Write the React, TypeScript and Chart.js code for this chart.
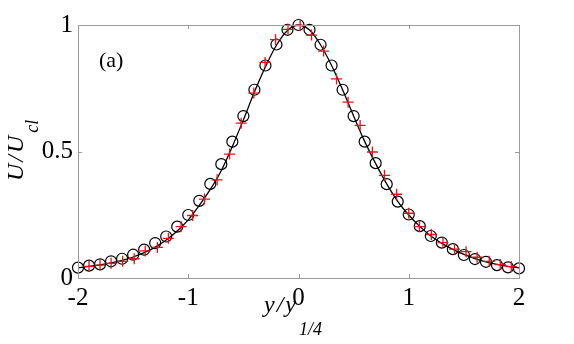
import React, { useEffect, useRef } from "react";
import { Chart, registerables } from "chart.js";

Chart.register(...registerables);

// Solid line (model profile)
const lineX = [-2, -1.9, -1.8, -1.7, -1.6, -1.5, -1.4, -1.3, -1.2, -1.1, -1.0, -0.9, -0.8, -0.7, -0.6, -0.5, -0.4, -0.3, -0.2, -0.1, 0, 0.1, 0.2, 0.3, 0.4, 0.5, 0.6, 0.7, 0.8, 0.9, 1.0, 1.1, 1.2, 1.3, 1.4, 1.5, 1.6, 1.7, 1.8, 1.9, 2.0];
const lineY = [0.040, 0.046, 0.052, 0.060, 0.070, 0.083, 0.100, 0.122, 0.150, 0.186, 0.230, 0.287, 0.350, 0.425, 0.520, 0.625, 0.735, 0.835, 0.920, 0.978, 1.0, 0.980, 0.922, 0.840, 0.744, 0.640, 0.540, 0.452, 0.372, 0.303, 0.249, 0.204, 0.166, 0.137, 0.113, 0.093, 0.077, 0.064, 0.054, 0.046, 0.040];

// Circles
const circleX = [-2, -1.9, -1.8, -1.7, -1.6, -1.5, -1.4, -1.3, -1.2, -1.1, -1.0, -0.9, -0.8, -0.7, -0.6, -0.5, -0.4, -0.3, -0.2, -0.1, 0, 0.1, 0.2, 0.3, 0.4, 0.5, 0.6, 0.7, 0.8, 0.9, 1.0, 1.1, 1.2, 1.3, 1.4, 1.5, 1.6, 1.7, 1.8, 1.9, 2.0];
const circleY = [0.041, 0.049, 0.054, 0.066, 0.076, 0.092, 0.112, 0.138, 0.164, 0.203, 0.249, 0.305, 0.372, 0.450, 0.539, 0.640, 0.744, 0.840, 0.923, 0.981, 1.0, 0.981, 0.922, 0.840, 0.744, 0.640, 0.539, 0.454, 0.371, 0.302, 0.251, 0.205, 0.166, 0.140, 0.114, 0.091, 0.075, 0.064, 0.051, 0.042, 0.038];

// Red crosses
const crossX = [-1.90, -1.80, -1.70, -1.595, -1.49, -1.39, -1.28, -1.18, -1.065, -0.96, -0.853, -0.738, -0.625, -0.52, -0.405, -0.303, -0.208, -0.095, 0.015, 0.118, 0.228, 0.345, 0.45, 0.559, 0.67, 0.78, 0.89, 1.0, 1.097, 1.205, 1.31, 1.415, 1.52, 1.62, 1.73, 1.83, 1.93];
const crossY = [0.046, 0.051, 0.058, 0.066, 0.076, 0.107, 0.121, 0.157, 0.203, 0.247, 0.312, 0.388, 0.490, 0.612, 0.731, 0.852, 0.942, 0.983, 0.998, 0.960, 0.897, 0.787, 0.695, 0.603, 0.498, 0.406, 0.331, 0.256, 0.203, 0.172, 0.140, 0.114, 0.104, 0.082, 0.066, 0.053, 0.045];

const xTicks = [-2, -1, 0, 1, 2];
const yTicks = [0, 0.5, 1];

const SERIF = '"Liberation Serif", "Times New Roman", serif';

function drawSpaced(ctx: CanvasRenderingContext2D, text: string, x: number, y: number, spacing: number) {
  let cx = x;
  for (const ch of text) {
    ctx.fillText(ch, cx, y);
    cx += ctx.measureText(ch).width + spacing;
  }
  return cx;
}

const framePlugin = {
  id: "frame",
  afterDatasetsDraw(chart: any) {
    const { ctx, chartArea } = chart;
    const { left, right, top, bottom } = chartArea;
    const xs = chart.scales.x;
    const ys = chart.scales.y;
    ctx.save();
    ctx.strokeStyle = "#9a9a9a";
    ctx.lineWidth = 1;
    ctx.strokeRect(Math.round(left) + 0.5, Math.round(top) + 0.5, Math.round(right - left), Math.round(bottom - top));
    const tl = 4;
    ctx.beginPath();
    for (const t of xTicks) {
      const px = Math.round(xs.getPixelForValue(t)) + 0.5;
      ctx.moveTo(px, bottom);
      ctx.lineTo(px, bottom - tl);
      ctx.moveTo(px, top);
      ctx.lineTo(px, top + tl);
    }
    for (const t of yTicks) {
      const py = Math.round(ys.getPixelForValue(t)) + 0.5;
      ctx.moveTo(left, py);
      ctx.lineTo(left + tl, py);
      ctx.moveTo(right, py);
      ctx.lineTo(right - tl, py);
    }
    ctx.stroke();
    ctx.restore();
  },
  afterDraw(chart: any) {
    const { ctx } = chart;
    ctx.save();
    ctx.fillStyle = "#000";
    ctx.textBaseline = "alphabetic";
    ctx.textAlign = "left";
    // (a) label
    ctx.font = `22px ${SERIF}`;
    ctx.fillText("(a)", 99, 67);
    // x title
    ctx.font = `italic 24px ${SERIF}`;
    const endX = drawSpaced(ctx, "y/y", 264, 312, 2);
    ctx.font = `italic 18px ${SERIF}`;
    ctx.fillText("1/4", endX + 1, 335);
    // y title
    ctx.translate(23, 181);
    ctx.rotate(-Math.PI / 2);
    ctx.font = `italic 24px ${SERIF}`;
    const endY = drawSpaced(ctx, "U/U", 0, 0, 2);
    ctx.font = `italic 18px ${SERIF}`;
    ctx.fillText("cl", endY + 1, 15);
    ctx.restore();
  },
};

export default function App() {
  const ref = useRef<HTMLCanvasElement | null>(null);
  useEffect(() => {
    document.body.style.margin = "0";
    document.body.style.background = "#fff";
    const canvas = ref.current;
    if (!canvas) return;
    const chart = new Chart(canvas, {
      type: "scatter",
      data: {
        datasets: [
          {
            label: "line",
            data: lineX.map((x, i) => ({ x, y: lineY[i] })),
            showLine: true,
            borderColor: "#000",
            borderWidth: 1.3,
            pointRadius: 0,
            cubicInterpolationMode: "monotone",
            order: 3,
          } as any,
          {
            label: "circles",
            data: circleX.map((x, i) => ({ x, y: circleY[i] })),
            pointStyle: "circle",
            pointRadius: 5.5,
            borderColor: "#000",
            backgroundColor: "rgba(0,0,0,0)",
            borderWidth: 1.2,
            order: 2,
          },
          {
            label: "crosses",
            data: crossX.map((x, i) => ({ x, y: crossY[i] })),
            pointStyle: "cross",
            pointRadius: 5.5,
            borderColor: "#e8101a",
            backgroundColor: "#e8101a",
            borderWidth: 1.3,
            order: 1,
          },
        ],
      },
      options: {
        responsive: false,
        animation: false,
        clip: false as any,
        layout: { padding: { left: 0, top: 25, right: 55, bottom: 0 } },
        plugins: {
          legend: { display: false },
          tooltip: { enabled: false },
        },
        scales: {
          x: {
            type: "linear",
            min: -2,
            max: 2,
            afterBuildTicks: (axis: any) => {
              axis.ticks = xTicks.map((v) => ({ value: v }));
            },
            afterFit: (axis: any) => {
              axis.height = 66;
            },
            grid: { display: false, drawTicks: false },
            border: { display: false },
            ticks: {
              padding: 5,
              color: "#000",
              font: { family: SERIF, size: 25 },
              callback: (v: any) => String(v),
              maxRotation: 0,
            },
          },
          y: {
            type: "linear",
            min: 0,
            max: 1,
            afterBuildTicks: (axis: any) => {
              axis.ticks = yTicks.map((v) => ({ value: v }));
            },
            afterFit: (axis: any) => {
              axis.width = 78;
            },
            grid: { display: false, drawTicks: false },
            border: { display: false },
            ticks: {
              padding: 5,
              color: "#000",
              font: { family: SERIF, size: 25 },
              callback: (v: any) => String(v),
            },
          },
        },
      },
      plugins: [framePlugin],
    });
    return () => chart.destroy();
  }, []);
  return <canvas ref={ref} width={574} height={344} style={{ display: "block" }} />;
}
